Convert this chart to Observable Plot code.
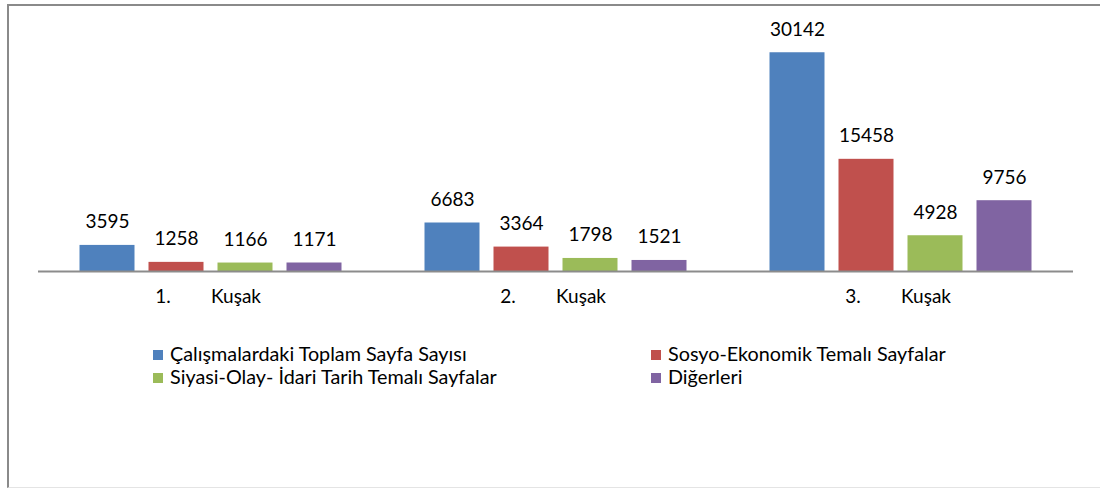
<!DOCTYPE html>
<html>
<head>
<meta charset="utf-8">
<script src="https://cdn.jsdelivr.net/npm/d3@7"></script>
<script src="https://cdn.jsdelivr.net/npm/@observablehq/plot@0.6"></script>
<style>
  body { margin: 0; background: #fff; }
  #wrap { position: relative; width: 1100px; height: 489px; overflow: hidden; font-family: Lato, sans-serif; }
  #frame { position: absolute; left: 7px; top: 4px; width: 1100px; height: 484px; box-sizing: border-box;
           border-left: 2px solid #8a8a8a; border-top: 2px solid #8a8a8a; border-bottom: 1px solid #e4e4e4; }
  #chart { position: absolute; left: 0; top: 0; }
  .leg { position: absolute; display: flex; align-items: center; font-size: 19.8px; line-height: 23px; color: #000; white-space: nowrap; }
  .leg .sw { width: 10px; height: 10px; margin-right: 7px; position: relative; top: 1px; }
</style>
</head>
<body>
<div id="wrap">
  <div id="frame"></div>
  <div id="chart"></div>
  <div id="legend"></div>
</div>
<script>
const groups = ["1.", "2.", "3."];
const groupWord = "Kuşak";
const series = [
  "Çalışmalardaki Toplam Sayfa Sayısı",
  "Sosyo-Ekonomik Temalı Sayfalar",
  "Siyasi-Olay- İdari Tarih Temalı Sayfalar",
  "Diğerleri"
];
const colors = ["#4F81BD", "#C0504D", "#9BBB59", "#8064A2"];
const toplam = [3595, 6683, 30142];
const sosyo = [1258, 3364, 15458];
const siyasi = [1166, 1798, 4928];
const diger = [1171, 1521, 9756];

const valuesBySeries = [toplam, sosyo, siyasi, diger];
const data = [];
groups.forEach((g, gi) => {
  series.forEach((s, si) => {
    data.push({ group: g, series: s, value: valuesBySeries[si][gi] });
  });
});

const chart = Plot.plot({
  width: 1100,
  height: 320,
  marginLeft: 37.5,
  marginRight: 27.5,
  marginTop: 17,
  marginBottom: 49,
  style: { fontFamily: "Lato, sans-serif", background: "transparent", color: "#000" },
  fx: { domain: groups, padding: 0, label: null },
  x: { domain: series, paddingInner: 14 / 69, paddingOuter: 0.6, axis: null },
  y: { domain: [0, 35000], axis: null },
  color: { domain: series, range: colors },
  marks: [
    Plot.barY(data, { fx: "group", x: "series", y: "value", fill: "series" }),
    Plot.text(data, { fx: "group", x: "series", y: "value", text: d => String(d.value),
      lineAnchor: "bottom", dy: -17, fontSize: 19, fill: "#000" }),
    Plot.ruleY([0], { stroke: "#8c8c8c", strokeWidth: 2 }),
    Plot.axisFx({ anchor: "bottom", tickSize: 0, tickPadding: 18, fontSize: 19, dx: -48,
      tickFormat: d => d, label: null, fill: "#000" }),
    Plot.axisFx({ anchor: "bottom", tickSize: 0, tickPadding: 18, fontSize: 19, dx: 25,
      tickFormat: () => groupWord, label: null, fill: "#000" })
  ]
});
document.getElementById("chart").appendChild(chart);

const legendPos = [
  { left: 153, top: 342 },
  { left: 651, top: 342 },
  { left: 153, top: 365 },
  { left: 651, top: 365 }
];
const legend = document.getElementById("legend");
series.forEach((s, i) => {
  const item = document.createElement("div");
  item.className = "leg";
  item.style.left = legendPos[i].left + "px";
  item.style.top = legendPos[i].top + "px";
  const sw = document.createElement("span");
  sw.className = "sw";
  sw.style.background = colors[i];
  const t = document.createElement("span");
  t.textContent = s;
  item.appendChild(sw);
  item.appendChild(t);
  legend.appendChild(item);
});
</script>
</body>
</html>
